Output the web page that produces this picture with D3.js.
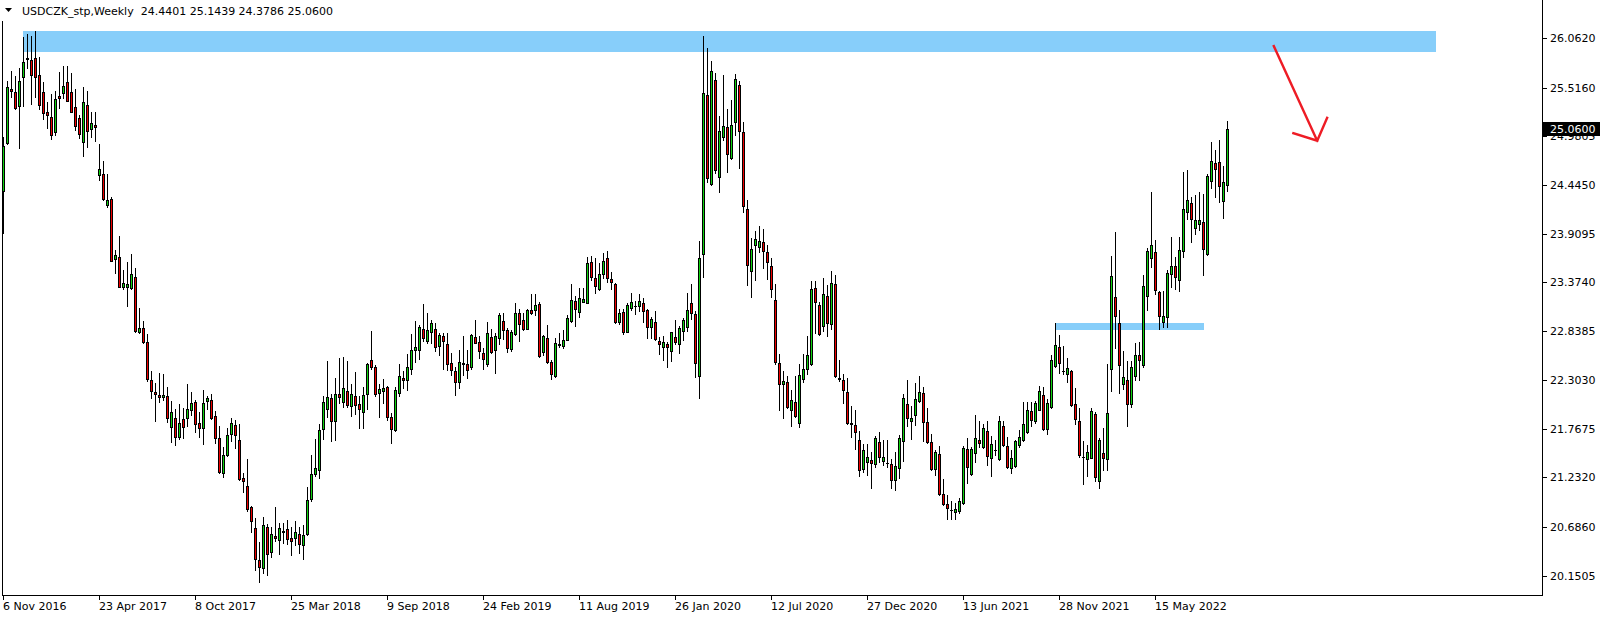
<!DOCTYPE html>
<html><head><meta charset="utf-8">
<script src="https://cdn.jsdelivr.net/npm/d3@7"></script>
<style>
html,body{margin:0;padding:0;background:#fff;overflow:hidden}
svg{display:block}
text{font-family:"DejaVu Sans",sans-serif;font-size:11px;fill:#000}
</style>
</head><body>
<svg id="chart" width="1604" height="619"></svg>
<script>
// ---------------- data ----------------
const symbolName = "USDCZK_stp,Weekly";
const firstWeek = "2016-11-06";
const lastWeek = "2022-09-18";

const open = [
24.384,24.904,25.501,25.468,25.318,25.636,25.838,25.819,25.838,25.651,
25.464,25.244,25.189,25.032,25.424,25.460,25.574,25.468,25.303,25.182,
24.922,25.321,25.065,25.105,24.552,24.563,24.230,24.292,23.629,23.651,
23.329,23.329,23.318,23.431,22.827,22.871,22.717,22.299,22.171,22.134,
22.112,22.123,21.789,21.885,21.679,21.870,21.881,21.976,22.057,21.826,
21.771,22.068,22.079,21.903,21.661,21.284,21.474,21.712,21.804,21.639,
21.222,21.134,20.903,20.672,20.324,20.236,20.690,20.416,20.588,20.540,
20.643,20.661,20.562,20.562,20.606,20.485,20.610,20.991,21.273,21.313,
21.767,21.987,22.101,21.855,22.145,22.064,22.181,22.020,22.123,22.035,
21.947,22.145,22.518,22.441,22.155,22.185,22.221,21.895,21.749,22.155,
22.324,22.302,22.427,22.632,22.632,22.859,22.731,22.826,22.859,22.679,
22.786,22.698,22.489,22.405,22.276,22.489,22.474,22.441,22.772,22.717,
22.599,22.482,22.772,22.629,22.761,22.951,22.852,22.640,22.808,23.035,
22.958,22.867,23.068,23.068,23.138,22.607,22.764,22.497,22.350,22.695,
22.673,22.739,22.955,23.171,23.046,23.163,23.145,23.596,23.420,23.306,
23.464,23.640,23.409,23.354,22.940,23.046,22.826,23.098,23.120,23.120,
23.145,23.072,22.889,22.940,22.731,22.669,22.698,22.625,22.772,22.695,
22.845,22.889,23.145,23.028,22.351,23.691,25.435,24.453,25.596,24.530,
24.970,25.079,24.739,25.134,25.541,25.025,24.178,23.497,23.783,23.768,
23.816,23.706,23.552,23.178,22.493,22.262,22.277,21.969,22.057,21.834,
22.317,22.427,22.478,23.310,23.127,22.892,23.222,22.921,23.354,22.324,
22.299,22.167,21.826,21.804,21.639,21.328,21.405,21.423,21.376,21.617,
21.416,21.387,21.376,21.207,21.339,21.628,22.035,21.856,21.921,22.075,
22.156,21.837,21.617,21.324,21.486,21.046,20.936,20.870,20.848,20.859,
20.947,21.541,21.270,21.504,21.643,21.570,21.742,21.449,21.533,21.438,
21.793,21.574,21.339,21.361,21.585,21.640,21.727,21.962,21.848,21.973,
22.134,21.760,22.002,22.460,22.665,22.405,22.372,22.398,22.040,21.852,
21.460,21.430,21.450,21.930,21.190,21.505,21.439,22.428,23.215,22.926,
22.255,22.299,22.036,22.343,22.574,22.464,23.222,23.640,23.706,23.266,
22.944,22.992,23.464,23.552,23.398,23.717,24.146,24.245,23.970,24.014,
24.036,23.684,24.486,24.684,24.695,24.266,24.4401];

const high = [
24.970,25.589,25.699,25.644,25.728,26.068,26.105,26.083,26.138,25.849,
25.574,25.354,25.446,25.479,25.688,25.753,25.753,25.677,25.501,25.215,
25.523,25.479,25.244,25.244,24.896,24.709,24.567,24.314,23.728,23.885,
23.508,23.600,23.688,23.534,23.094,22.951,22.808,22.398,22.266,22.375,
22.368,22.222,22.071,21.980,22.038,21.991,22.258,22.167,22.082,21.947,
22.192,22.130,22.148,21.961,21.797,21.570,21.771,21.884,21.862,21.819,
21.284,21.434,20.914,20.782,20.522,20.793,20.720,20.690,20.903,20.731,
20.731,20.764,20.687,20.753,20.687,20.705,21.126,21.478,21.657,21.819,
22.126,22.514,22.148,22.324,22.544,22.558,22.511,22.254,22.390,22.130,
22.229,22.490,22.840,22.463,22.254,22.313,22.232,21.936,22.229,22.478,
22.401,22.584,22.808,22.947,22.910,23.137,23.035,22.961,22.925,22.822,
22.815,22.815,22.602,22.449,22.632,22.786,22.628,22.808,22.962,22.786,
22.654,22.940,22.863,22.815,23.035,23.035,22.870,22.852,23.149,23.083,
23.035,23.087,23.248,23.248,23.160,22.797,22.907,22.522,22.761,22.823,
22.852,23.021,23.358,23.226,23.314,23.314,23.658,23.669,23.640,23.585,
23.695,23.720,23.486,23.365,23.087,23.087,23.152,23.259,23.171,23.244,
23.208,23.087,22.991,23.057,22.779,22.786,22.724,22.834,22.962,22.896,
22.980,23.263,23.362,23.065,23.830,26.083,25.948,25.808,25.680,25.204,
25.655,25.281,25.380,25.662,25.589,25.134,24.281,23.860,23.937,23.992,
23.959,23.786,23.640,23.354,22.588,22.405,22.346,22.193,22.346,22.475,
22.588,22.786,23.387,23.387,23.156,23.423,23.343,23.500,23.456,22.522,
22.368,22.324,22.020,21.973,21.738,21.595,21.595,21.515,21.687,21.727,
21.639,21.639,21.438,21.508,21.698,22.148,22.302,22.020,22.266,22.346,
22.222,21.991,21.709,21.530,21.574,21.215,21.035,20.969,20.947,21.002,
21.577,21.662,21.563,21.918,21.848,21.819,21.848,21.687,21.643,21.907,
21.848,21.680,21.533,21.647,21.753,22.064,22.064,22.057,22.075,22.240,
22.222,22.094,22.577,22.930,22.793,22.676,22.541,22.416,22.210,22.000,
21.630,21.590,21.990,21.950,21.670,21.776,22.479,23.666,23.929,23.072,
22.625,22.512,22.512,22.710,22.721,23.453,23.757,24.369,23.842,23.285,
23.285,23.512,23.878,23.651,23.878,24.589,24.611,24.310,24.332,24.365,
24.343,24.563,24.915,24.827,24.937,24.651,25.1439];

const low = [
23.915,24.896,25.416,25.285,24.856,25.318,25.735,25.340,25.416,25.285,
25.175,25.076,24.955,24.999,25.292,25.402,25.365,25.244,25.054,24.959,
24.768,24.863,24.977,24.929,24.504,24.281,24.208,23.607,23.482,23.321,
23.307,23.120,23.307,22.834,22.816,22.713,22.288,22.101,21.856,22.064,
22.082,21.844,21.625,21.592,21.657,21.665,21.800,21.914,21.731,21.679,
21.602,21.983,21.870,21.606,21.284,21.240,21.471,21.635,21.551,21.205,
21.075,20.863,20.628,20.214,20.086,20.185,20.163,20.353,20.529,20.394,
20.507,20.496,20.383,20.489,20.405,20.331,20.595,20.969,21.247,21.229,
21.657,21.899,21.635,21.646,22.053,22.002,22.002,21.906,21.928,21.778,
21.771,21.983,22.423,22.126,21.899,22.053,21.862,21.613,21.738,22.130,
22.214,22.196,22.372,22.503,22.533,22.734,22.705,22.705,22.624,22.580,
22.419,22.412,22.357,22.141,22.218,22.357,22.328,22.427,22.706,22.548,
22.420,22.460,22.596,22.383,22.702,22.757,22.614,22.625,22.797,22.728,
22.852,22.859,23.028,23.013,22.552,22.577,22.490,22.310,22.340,22.669,
22.651,22.739,22.944,22.900,22.999,23.163,23.145,23.398,23.259,23.288,
23.420,23.380,23.306,22.930,22.914,22.812,22.826,23.072,23.030,23.061,
22.944,22.768,22.768,22.742,22.585,22.523,22.449,22.512,22.698,22.600,
22.742,22.841,22.970,22.340,22.101,23.431,24.482,24.440,24.581,24.365,
24.940,24.592,24.731,24.995,24.636,24.145,23.343,23.219,23.402,23.713,
23.537,23.416,23.219,22.482,21.973,21.881,21.991,21.801,21.892,21.790,
22.284,22.372,22.467,22.823,22.801,22.845,22.790,22.867,22.339,22.295,
22.053,21.820,21.680,21.548,21.251,21.291,21.262,21.119,21.346,21.405,
21.368,21.346,21.119,21.097,21.229,21.416,21.801,21.658,21.812,22.064,
21.636,21.610,21.313,21.258,21.035,20.925,20.771,20.771,20.771,20.837,
20.936,21.167,21.260,21.405,21.570,21.552,21.372,21.248,21.478,21.427,
21.581,21.339,21.284,21.350,21.563,21.629,21.716,21.797,21.834,21.969,
21.749,21.705,21.991,22.449,22.383,22.365,22.280,22.020,21.820,21.460,
21.160,21.250,21.440,21.190,21.120,21.314,21.314,22.182,22.658,22.157,
22.208,21.801,22.010,22.299,22.299,22.450,23.069,23.549,23.252,22.867,
22.889,22.882,23.329,23.307,23.285,23.651,24.076,23.816,23.904,23.948,
23.453,23.673,24.409,24.310,24.255,24.080,24.3786];

const close = [
24.878,25.519,25.475,25.296,25.585,25.794,25.834,25.658,25.636,25.329,
25.241,25.211,24.999,25.391,25.398,25.530,25.373,25.252,25.098,25.010,
25.354,25.043,25.123,25.079,24.618,24.288,24.281,23.614,23.677,23.329,
23.365,23.354,23.464,22.845,22.871,22.724,22.317,22.178,22.153,22.112,
22.134,21.881,21.947,21.679,21.826,21.789,21.980,22.046,21.815,21.771,
22.046,22.101,21.888,21.661,21.291,21.478,21.698,21.826,21.694,21.211,
21.189,20.881,20.749,20.331,20.243,20.705,20.386,20.606,20.570,20.672,
20.632,20.551,20.529,20.635,20.496,20.603,20.980,21.265,21.331,21.756,
22.057,22.112,21.855,22.145,22.119,22.210,22.027,22.145,22.027,21.980,
22.134,22.474,22.449,22.145,22.203,22.214,21.892,21.760,22.192,22.342,
22.306,22.441,22.628,22.661,22.881,22.760,22.851,22.925,22.661,22.793,
22.734,22.482,22.412,22.276,22.496,22.474,22.408,22.793,22.713,22.625,
22.537,22.815,22.610,22.783,23.013,22.852,22.651,22.830,23.035,22.922,
22.867,23.068,23.035,23.123,22.570,22.786,22.497,22.365,22.706,22.688,
22.739,22.984,23.178,23.079,23.200,23.193,23.588,23.438,23.339,23.464,
23.607,23.424,23.383,22.936,23.035,22.830,23.123,23.156,23.116,23.167,
23.057,22.889,22.973,22.753,22.695,22.720,22.669,22.827,22.724,22.871,
22.959,23.068,23.043,22.493,23.640,25.453,24.519,25.695,24.607,25.036,
25.090,24.783,25.101,25.607,25.036,24.211,23.563,23.739,23.849,23.827,
23.717,23.596,23.299,22.504,22.253,22.288,22.009,22.079,21.903,22.354,
22.420,22.577,23.299,23.163,22.812,23.244,22.925,23.365,22.350,22.313,
22.196,21.834,21.823,21.735,21.317,21.530,21.453,21.394,21.665,21.453,
21.453,21.387,21.207,21.354,21.661,22.101,21.889,21.885,22.090,22.167,
21.845,21.625,21.324,21.508,21.046,20.936,20.892,20.870,20.881,20.969,
21.559,21.343,21.548,21.665,21.614,21.771,21.471,21.596,21.533,21.852,
21.592,21.350,21.442,21.629,21.673,21.815,21.969,21.859,22.050,22.178,
21.760,22.046,22.522,22.687,22.486,22.401,22.431,22.031,21.870,21.480,
21.460,21.508,21.960,21.240,21.640,21.450,21.940,23.446,23.003,22.472,
22.336,22.036,22.446,22.574,22.527,23.336,23.717,23.783,23.288,23.003,
23.003,23.479,23.552,23.431,23.728,24.179,24.277,24.069,24.058,24.058,
23.739,24.541,24.706,24.618,24.431,24.475,25.0600];

const priceTicks = [26.0620,25.5160,24.9805,24.4450,23.9095,23.3740,22.8385,22.3030,21.7675,21.2320,20.6860,20.1505];
const dateTicks = ["2016-11-06","2017-04-23","2017-10-08","2018-03-25","2018-09-09","2019-02-24","2019-08-11","2020-01-26","2020-07-12","2020-12-27","2021-06-13","2021-11-28","2022-05-15"];

// supply / support zones (time from, time to, price top, price bottom)
const zoneFrom   = ["2016-12-11","2021-11-21"];
const zoneTo     = ["2023-09-17","2022-08-07"];
const zoneTop    = [26.138, 22.930];
const zoneBottom = [25.907, 22.855];

// drawn arrow (time, price)
const arrowFrom = ["2022-12-08", 25.973];
const arrowTo   = ["2023-02-22", 24.932];

// ---------------- chart ----------------
const parse = d3.utcParse("%Y-%m-%d");
const weeks = d3.utcWeek.range(parse(firstWeek), d3.utcDay.offset(parse(lastWeek), 1));
const svg = d3.select("#chart");
const W = 1604, H = 619;
const axisX = 1542, axisY = 595;

const x = d3.scaleUtc()
  .domain([weeks[0], weeks[weeks.length - 1]])
  .range([3.5, 3.5 + 4 * (weeks.length - 1)]);
const y = d3.scaleLinear()
  .domain([priceTicks[priceTicks.length - 1], priceTicks[0]])
  .range([575.8, 37.9]);

svg.append("rect").attr("width", W).attr("height", H).attr("fill", "#fff");

// zones
const gz = svg.append("g").attr("shape-rendering", "crispEdges");
zoneFrom.forEach((f, k) => {
  const x0 = Math.round(x(parse(f)) - 0.5), x1 = Math.round(x(parse(zoneTo[k])));
  const y0 = Math.round(y(zoneTop[k])), y1 = Math.round(y(zoneBottom[k]));
  gz.append("rect").attr("x", x0).attr("y", y0).attr("width", x1 - x0).attr("height", y1 - y0)
    .attr("fill", "#87cefa");
});

// candles
const gc = svg.append("g").attr("shape-rendering", "crispEdges");
weeks.forEach((d, i) => {
  const cx = Math.round(x(d) - 0.5);
  const yO = Math.round(y(open[i])), yC = Math.round(y(close[i]));
  const yH = Math.round(y(high[i])), yL = Math.round(y(low[i]));
  const top = Math.min(yO, yC), bot = Math.max(yO, yC);
  gc.append("line").attr("x1", cx + 0.5).attr("x2", cx + 0.5)
    .attr("y1", Math.min(yH, top)).attr("y2", Math.max(yL, bot) + 1)
    .attr("stroke", "#000").attr("stroke-width", 1);
  if (bot - top >= 2) {
    gc.append("rect").attr("x", cx - 0.5).attr("y", top + 0.5)
      .attr("width", 2).attr("height", bot - top)
      .attr("fill", close[i] > open[i] ? "#0fd20f" : "#ee0000")
      .attr("stroke", "#000").attr("stroke-width", 1);
  } else {
    gc.append("rect").attr("x", cx - 1).attr("y", top)
      .attr("width", 3).attr("height", bot - top + 1).attr("fill", "#000");
  }
});

// arrow
const ax0 = x(parse(arrowFrom[0])), ay0 = y(arrowFrom[1]);
const ax1 = x(parse(arrowTo[0])), ay1 = y(arrowTo[1]);
const ang = Math.atan2(ay0 - ay1, ax0 - ax1);
const headLen = 25, spread = 48 * Math.PI / 180;
const hA = [ax1 + headLen * Math.cos(ang - spread), ay1 + headLen * Math.sin(ang - spread)];
const hB = [ax1 + headLen * Math.cos(ang + spread), ay1 + headLen * Math.sin(ang + spread)];
svg.append("path")
  .attr("d", `M${ax0},${ay0}L${ax1},${ay1}M${hA[0]},${hA[1]}L${ax1},${ay1}L${hB[0]},${hB[1]}`)
  .attr("fill", "none").attr("stroke", "#ee1c25").attr("stroke-width", 2.4)
  .attr("stroke-linejoin", "miter").attr("stroke-linecap", "square");

// frame
const gf = svg.append("g").attr("shape-rendering", "crispEdges").attr("stroke", "#000");
gf.append("line").attr("x1", 2.5).attr("x2", 2.5).attr("y1", 21).attr("y2", axisY + 1);
gf.append("line").attr("x1", axisX + 0.5).attr("x2", axisX + 0.5).attr("y1", 0).attr("y2", axisY + 1);
gf.append("line").attr("x1", 2).attr("x2", axisX + 1).attr("y1", axisY + 0.5).attr("y2", axisY + 0.5);

// price axis
const gy = svg.append("g");
priceTicks.forEach(v => {
  const yy = Math.round(y(v));
  gy.append("line").attr("x1", axisX + 1).attr("x2", axisX + 5).attr("y1", yy + 0.5).attr("y2", yy + 0.5)
    .attr("stroke", "#000").attr("shape-rendering", "crispEdges");
  gy.append("text").attr("x", axisX + 8).attr("y", yy).attr("dy", "0.36em").text(d3.format(".4f")(v));
});

// date axis
const fmtDate = d3.utcFormat("%-d %b %Y");
const gx = svg.append("g");
dateTicks.forEach(s => {
  const d = parse(s), xx = Math.round(x(d) - 0.5);
  gx.append("line").attr("x1", xx + 0.5).attr("x2", xx + 0.5).attr("y1", axisY + 1).attr("y2", axisY + 5)
    .attr("stroke", "#000").attr("shape-rendering", "crispEdges");
  gx.append("text").attr("x", xx).attr("y", 610).text(fmtDate(d));
});

// current price label
const last = close.length - 1;
const yLast = Math.round(y(close[last]));
svg.append("rect").attr("x", axisX).attr("y", yLast - 7).attr("width", 58).attr("height", 14)
  .attr("fill", "#000").attr("shape-rendering", "crispEdges");
svg.append("text").attr("x", axisX + 8).attr("y", yLast).attr("dy", "0.36em").style("fill", "#fff")
  .text(d3.format(".4f")(close[last]));

// title
svg.append("path").attr("d", "M5,8L12,8L8.5,12Z").attr("fill", "#000");
svg.append("text").attr("x", 22).attr("y", 15).attr("xml:space", "preserve")
  .text(`${symbolName}  ${[open[last], high[last], low[last], close[last]].map(d3.format(".4f")).join(" ")}`);
</script>
</body></html>
